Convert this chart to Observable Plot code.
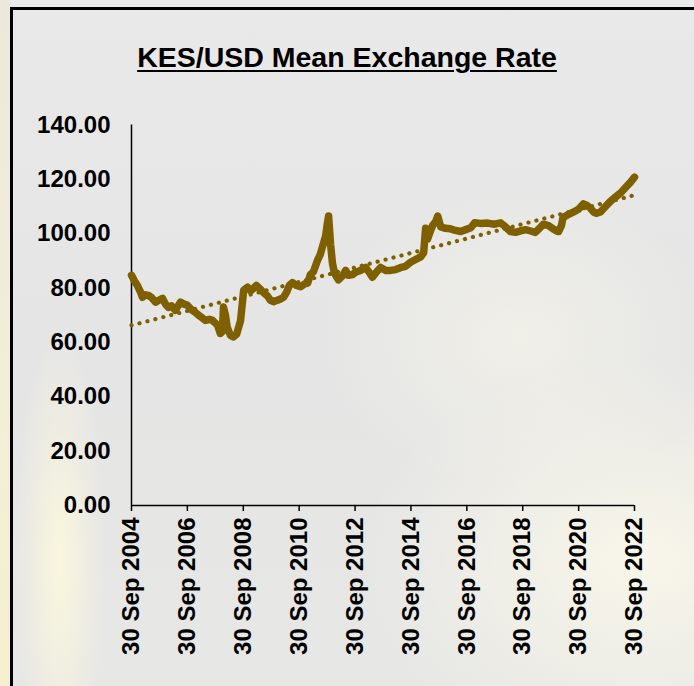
<!DOCTYPE html>
<html>
<head>
<meta charset="utf-8">
<script src="https://cdn.jsdelivr.net/npm/d3@7"></script>
<script src="https://cdn.jsdelivr.net/npm/@observablehq/plot@0.6"></script>
<style>
  html, body { margin: 0; padding: 0; }
  body { width: 694px; height: 686px; overflow: hidden; }
  #wrap {
    position: relative; width: 694px; height: 686px; overflow: hidden;
    font-family: "Liberation Sans", Arial, sans-serif;
    background:
      radial-gradient(ellipse 45px 230px at 60px 560px, rgba(255,250,220,0.8), rgba(255,250,220,0) 100%),
      radial-gradient(ellipse 280px 200px at 640px 560px, rgba(250,248,234,0.9), rgba(250,248,234,0) 100%),
      radial-gradient(ellipse 200px 150px at 520px 340px, rgba(245,244,234,0.7), rgba(245,244,234,0) 100%),
      linear-gradient(180deg, #e9e9e9 0%, #e5e5e5 50%, #e7e7e5 100%);
  }
  #outer {
    position: absolute; left: 0; top: 0; width: 11px; height: 686px;
    background: linear-gradient(180deg, #ece9dc 0%, #f3eed6 60%, #f6efcf 100%);
  }
  #outerTop {
    position: absolute; left: 0; top: 0; width: 694px; height: 8px;
    background: #ebebeb;
  }
  #frame {
    position: absolute; left: 10px; top: 7px; width: 720px; height: 720px;
    border: 3px solid #000; box-sizing: border-box;
  }
  #title {
    position: absolute; left: 0; top: 41px; width: 694px; text-align: center;
    font-size: 28.5px; font-weight: bold; color: #000;
    text-decoration: underline; text-decoration-thickness: 2px; text-underline-offset: 3px;
  }
  #chart { position: absolute; left: 0; top: 0; }
  #chart svg { background: transparent !important; }
</style>
</head>
<body>
<div id="wrap">
  <div id="outerTop"></div>
  <div id="outer"></div>
  <div id="frame"></div>
  <div id="title"></div>
  <div id="chart"></div>
</div>
<script>
// Observation dates (sampled from the daily series) and KES per USD mean rate
const dates = [
  "2004-09-30","2004-11-10","2004-12-15","2005-01-26","2005-02-20","2005-04-01","2005-05-10","2005-06-20",
  "2005-08-10","2005-09-20","2005-11-10","2005-12-20","2006-01-26","2006-03-05","2006-04-26","2006-07-01",
  "2006-08-25","2006-09-30","2006-11-25","2007-01-15","2007-03-20","2007-05-25","2007-07-15","2007-08-25",
  "2007-10-05","2007-10-30","2007-12-05","2008-01-01","2008-01-15","2008-02-10","2008-03-05","2008-04-15",
  "2008-05-25","2008-07-05","2008-08-25","2008-10-05","2008-11-25","2009-01-05","2009-02-10","2009-03-20",
  "2009-05-15","2009-06-20","2009-08-15","2009-09-20","2009-10-30","2009-12-20","2010-01-30","2010-03-10",
  "2010-04-20","2010-05-25","2010-07-05","2010-08-25","2010-10-20","2010-12-10","2011-01-20","2011-02-25",
  "2011-04-05","2011-05-25","2011-07-05","2011-07-30","2011-09-10","2011-10-05","2011-10-20","2011-11-15",
  "2011-12-10","2012-01-05","2012-02-25","2012-04-20","2012-05-30","2012-07-05","2012-08-30","2012-10-05",
  "2012-12-10","2013-02-15","2013-04-10","2013-05-15","2013-07-10","2013-08-30","2013-11-05","2014-01-10",
  "2014-03-15","2014-05-15","2014-07-20","2014-09-25","2014-11-30","2015-02-05","2015-03-15","2015-04-10",
  "2015-05-05","2015-05-30","2015-07-10","2015-08-20","2015-09-15","2015-10-25","2015-12-25","2016-02-28",
  "2016-05-05","2016-07-10","2016-09-15","2016-11-20","2017-01-10","2017-03-28","2017-06-28","2017-09-28",
  "2017-12-15","2018-02-18","2018-04-22","2018-06-28","2018-09-02","2018-11-08","2019-01-12","2019-03-14",
  "2019-05-08","2019-06-28","2019-09-02","2019-10-24","2019-12-14","2020-01-12","2020-02-18","2020-03-10",
  "2020-05-15","2020-07-20","2020-09-28","2020-12-02","2021-01-12","2021-03-02","2021-04-12","2021-05-22",
  "2021-07-12","2021-09-16","2021-11-22","2022-01-26","2022-04-01","2022-06-05","2022-08-10","2022-09-30"
];
const rates = [
  84.7, 82.5, 81.0, 78.5, 76.6, 77.5, 77.3, 76.5,
  74.8, 75.5, 76.2, 74.0, 72.9, 73.5, 71.8, 74.8,
  74.0, 73.7, 72.0, 71.0, 69.5, 68.1, 68.5, 68.1,
  67.0, 66.3, 63.3, 64.0, 73.0, 70.0, 65.5, 62.6,
  62.0, 63.0, 68.0, 79.2, 80.3, 79.0, 79.9, 81.0,
  79.5, 78.4, 77.0, 75.5, 75.0, 75.5, 76.0, 76.6,
  78.5, 81.0, 82.0, 81.0, 80.5, 81.5, 81.8, 85.0,
  86.0, 90.0, 92.5, 95.0, 99.0, 104.0, 106.5, 96.0,
  89.0, 85.5, 83.0, 84.5, 86.5, 84.7, 85.0, 85.8,
  86.5, 87.6, 85.5, 84.0, 86.0, 87.6, 86.5, 86.5,
  86.8, 87.5, 88.0, 89.5, 90.5, 91.5, 93.0, 102.0,
  98.0, 100.0, 103.0, 104.5, 106.5, 102.5, 102.0, 101.8,
  101.2, 100.8, 101.5, 102.2, 104.0, 103.8, 103.9, 103.5,
  104.0, 102.5, 100.8, 100.5, 101.0, 101.5, 101.0, 100.5,
  102.0, 103.5, 103.0, 102.0, 101.0, 100.8, 103.0, 106.0,
  107.0, 107.9, 109.0, 111.0, 110.5, 109.4, 108.0, 107.5,
  108.0, 110.0, 112.0, 113.5, 115.0, 117.0, 119.0, 120.8
];
// Linear trend line (Excel trendline) read at its two ends
const trendDates = ["2004-09-30", "2022-09-30"];
const trendValues = [66.3, 114.2];

const yTicks = [0, 20, 40, 60, 80, 100, 120, 140];
const xTickLabels = ["30 Sep 2004","30 Sep 2006","30 Sep 2008","30 Sep 2010","30 Sep 2012",
                     "30 Sep 2014","30 Sep 2016","30 Sep 2018","30 Sep 2020","30 Sep 2022"];
const title = "KES/USD Mean Exchange Rate";

document.getElementById("title").textContent = title;

const toDate = d => new Date(d + "T00:00:00Z");
const data = dates.map((d, i) => ({date: toDate(d), rate: rates[i]}));
const trend = trendDates.map((d, i) => ({date: toDate(d), rate: trendValues[i]}));
const parseLabel = d3.utcParse("%d %b %Y");
const xTicks = xTickLabels.map(parseLabel);
const fmtX = d3.utcFormat("%d %b %Y");
const color = "#7F6000";

const chart = Plot.plot({
  width: 694,
  height: 686,
  marginLeft: 131,
  marginRight: 60,
  marginTop: 124.5,
  marginBottom: 181,
  style: {background: "transparent", fontFamily: "'Liberation Sans', Arial, sans-serif", color: "#000", overflow: "visible"},
  x: {type: "utc", domain: [xTicks[0], xTicks[xTicks.length - 1]]},
  y: {domain: [0, 140]},
  marks: [
    Plot.ruleX([xTicks[0]], {y1: 0, y2: 140, stroke: "#000", strokeWidth: 1.5}),
    Plot.ruleY([0], {stroke: "#000", strokeWidth: 1.5}),
    Plot.axisY({ticks: yTicks, tickSize: 0, tickPadding: 21, tickFormat: d3.format(".2f"),
      fontSize: 24, fontWeight: "bold", label: null}),
    Plot.axisX({ticks: xTicks, tickSize: 6, tickPadding: 6, tickRotate: -90, tickFormat: fmtX,
      fontSize: 24, fontWeight: "bold", label: null, stroke: "#000", strokeWidth: 1.5}),
    Plot.line(data, {x: "date", y: "rate", stroke: color, strokeWidth: 7.5,
      strokeLinejoin: "round", strokeLinecap: "round"}),
    Plot.line(trend, {x: "date", y: "rate", stroke: color, strokeWidth: 4.2,
      strokeDasharray: "0.1 8.1", strokeLinecap: "round"})
  ]
});
document.getElementById("chart").appendChild(chart);
</script>
</body>
</html>
